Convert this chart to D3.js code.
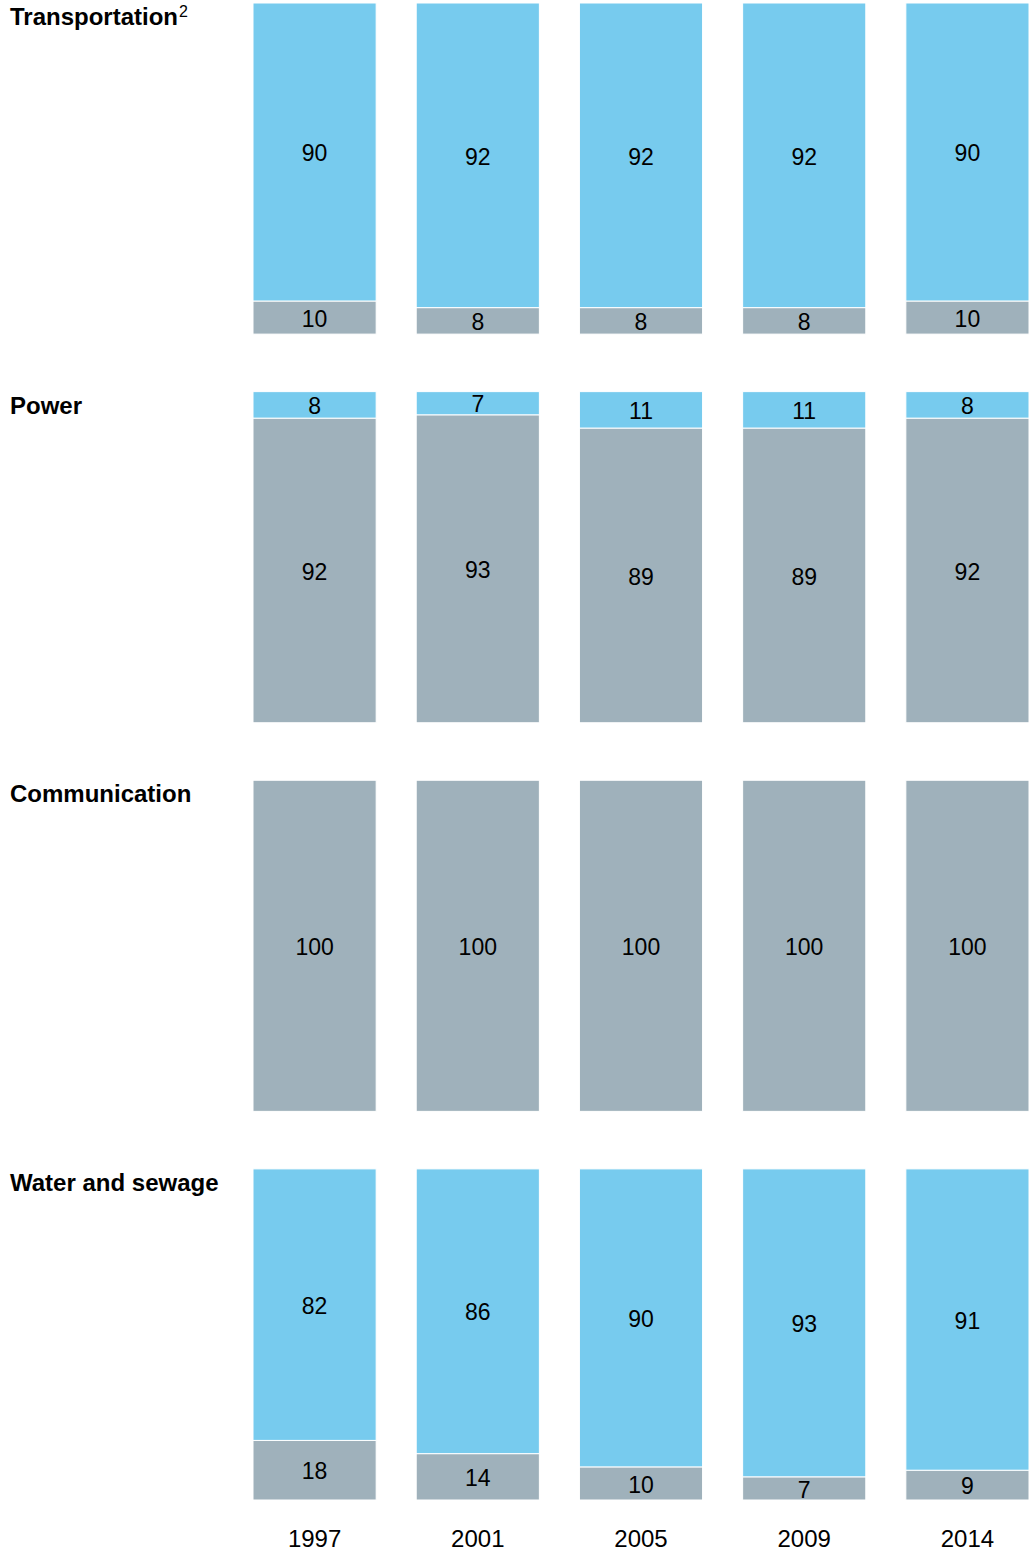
<!DOCTYPE html>
<html><head><meta charset="utf-8">
<script src="https://cdn.jsdelivr.net/npm/d3@7"></script>
<style>body{margin:0;background:#fff}svg{display:block}</style>
</head><body>
<script>
const years = ["1997","2001","2005","2009","2014"];
const sectors = ["Transportation","Power","Communication","Water and sewage"];
// blue (top) segment values per sector
const blueValues = [
  [90,92,92,92,90],
  [8,7,11,11,8],
  [0,0,0,0,0],
  [82,86,90,93,91]
];
// gray (bottom) segment values per sector
const grayValues = [
  [10,8,8,8,10],
  [92,93,89,89,92],
  [100,100,100,100,100],
  [18,14,10,7,9]
];

const W = 1030, H = 1553;
const svg = d3.select("body").append("svg").attr("width", W).attr("height", H);
const font = "'Liberation Sans', Arial, sans-serif";

const x = d3.scaleBand().domain(years).range([253, 1029]).paddingInner(40/163).paddingOuter(0);
const panel = d3.scaleBand().domain(sectors).range([3, 1500]).paddingInner(0.148).paddingOuter(0);
const blue = "#77CBEE", gray = "#9FB1BB";

sectors.forEach((s, si) => {
  const top = panel(s), h = panel.bandwidth();
  const g = svg.append("g");
  years.forEach((yr, i) => {
    const gv = grayValues[si][i], bv = blueValues[si][i];
    const total = gv + bv;
    const yy = d3.scaleLinear().domain([0, total]).range([top + h, top]);
    if (gv > 0) {
      g.append("rect").attr("x", x(yr)).attr("width", x.bandwidth())
        .attr("y", yy(gv)).attr("height", yy(0) - yy(gv))
        .attr("fill", gray).attr("stroke", "#fff").attr("stroke-width", 1);
      g.append("text").attr("x", x(yr) + x.bandwidth()/2).attr("y", (yy(gv) + yy(0))/2)
        .attr("dy", "0.4em").attr("text-anchor", "middle")
        .attr("font-family", font).attr("font-size", 23).attr("fill", "#000").text(gv);
    }
    if (bv > 0) {
      g.append("rect").attr("x", x(yr)).attr("width", x.bandwidth())
        .attr("y", yy(total)).attr("height", yy(gv) - yy(total))
        .attr("fill", blue).attr("stroke", "#fff").attr("stroke-width", 1);
      g.append("text").attr("x", x(yr) + x.bandwidth()/2).attr("y", (yy(total) + yy(gv))/2)
        .attr("dy", "0.4em").attr("text-anchor", "middle")
        .attr("font-family", font).attr("font-size", 23).attr("fill", "#000").text(bv);
    }
  });
  const t = svg.append("text").attr("x", 10).attr("y", top + 22)
    .attr("font-family", font).attr("font-size", 24).attr("font-weight", "bold").attr("fill", "#000");
  t.append("tspan").text(s);
  if (si === 0) {
    t.append("tspan").attr("font-size", 16).attr("font-weight", "normal").attr("dx", 1).attr("dy", -8).text("2");
  }
});

// year axis labels
svg.append("g").selectAll("text").data(years).join("text")
  .attr("x", d => x(d) + x.bandwidth()/2).attr("y", 1547)
  .attr("text-anchor", "middle").attr("font-family", font).attr("font-size", 24)
  .attr("fill", "#000").text(d => d);
</script>
</body></html>
